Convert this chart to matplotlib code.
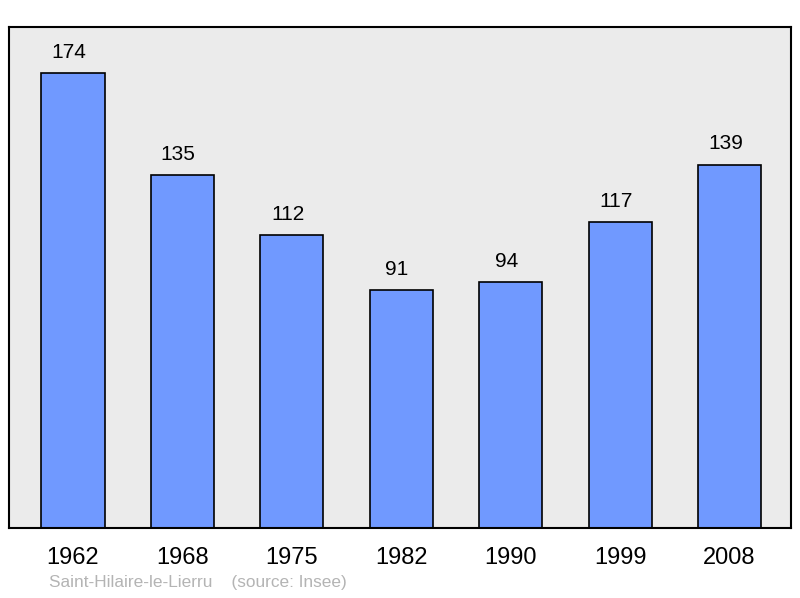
import matplotlib
matplotlib.use("Agg")
import matplotlib.pyplot as plt

years = ["1962", "1968", "1975", "1982", "1990", "1999", "2008"]
population = [174, 135, 112, 91, 94, 117, 139]
commune = "Saint-Hilaire-le-Lierru"
source = "(source: Insee)"

plt.rcParams['font.family'] = ['Liberation Sans', 'DejaVu Sans']

fig = plt.figure(figsize=(8, 5.98), dpi=100)
ax = fig.add_axes([9/800, 70/598, 782/800, 501/598])
ax.set_facecolor('#ebebeb')
x = list(range(len(years)))
ax.bar(x, population, width=0.576, color='#7099ff', edgecolor='#000000', linewidth=1.2, zorder=2)
for xi, v in zip(x, population):
    ax.annotate(str(v), (xi, v), xytext=(-3, 8), textcoords='offset points',
                ha='center', va='bottom', fontsize=15, color='#000000')
ax.set_xlim(-0.585, 6.562)
ax.set_ylim(0, 191.6)
ax.set_yticks([])
ax.set_xticks(x)
ax.set_xticklabels(years, fontsize=17)
ax.tick_params(axis='x', length=0, pad=14)
for s in ax.spines.values():
    s.set_linewidth(1.5)
    s.set_color('#000000')
fig.text(49/800, 1 - 583/598, commune + "    " + source, fontsize=12.4, color='#b4b4b4', va='center', ha='left')
fig.savefig('out.png', dpi=100)
